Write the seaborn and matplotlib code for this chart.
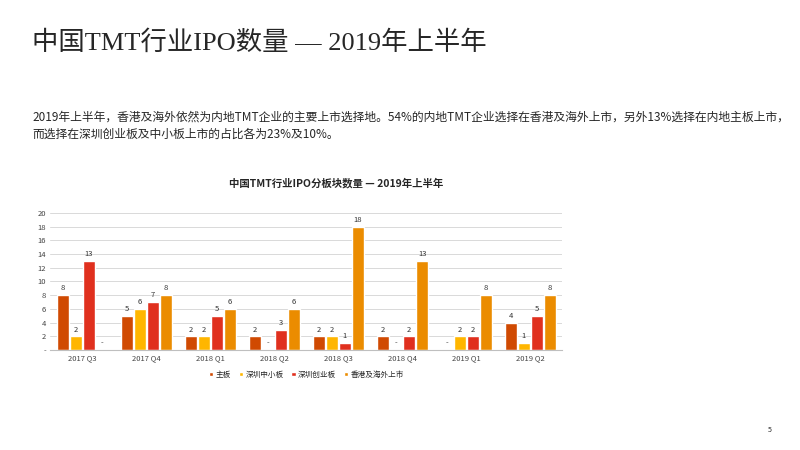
import pandas as pd
import matplotlib.pyplot as plt
import seaborn as sns

quarters = ['2017 Q3', '2017 Q4', '2018 Q1', '2018 Q2', '2018 Q3', '2018 Q4', '2019 Q1', '2019 Q2']
series = ['主板', '深圳中小板', '深圳创业板', '香港及海外上市']
main_board = [8, 5, 2, 2, 2, 2, 0, 4]
sme_board = [2, 6, 2, 0, 2, 0, 2, 1]
chinext = [13, 7, 5, 3, 1, 2, 2, 5]
hk_overseas = [0, 8, 6, 6, 18, 13, 8, 8]
colors = ['#d04a02', '#ffb600', '#e0301e', '#eb8c00']

rows = []
for name, vals in zip(series, [main_board, sme_board, chinext, hk_overseas]):
    for q, v in zip(quarters, vals):
        rows.append({'quarter': q, 'series': name, 'count': v})
df = pd.DataFrame(rows)

sns.set_style("white")
plt.rcParams['font.family'] = ['Noto Sans CJK SC', 'DejaVu Sans']

fig = plt.figure(figsize=(8, 4.5), dpi=100)
fig.text(0.04, 0.905, '中国TMT行业IPO数量 — 2019年上半年', fontsize=19, va='center',
         family=['Liberation Serif', 'Noto Sans CJK SC'])
fig.text(0.04, 0.72, '2019年上半年，香港及海外依然为内地TMT企业的主要上市选择地。54%的内地TMT企业选择在香港及海外上市，另外13%选择在内地主板上市，\n而选择在深圳创业板及中小板上市的占比各为23%及10%。',
         fontsize=8.5, va='center', linespacing=1.4)
fig.text(0.42, 0.585, '中国TMT行业IPO分板块数量 — 2019年上半年', fontsize=7.5, fontweight='bold', ha='center')
fig.text(0.96, 0.04, '5', fontsize=5)

ax = fig.add_axes([0.063, 0.222, 0.64, 0.305])
sns.barplot(data=df, x='quarter', y='count', hue='series', palette=colors, saturation=1,
            width=0.82, gap=0.1, ax=ax, legend=True)
for cont in ax.containers:
    labels = [('-' if b.get_height() == 0 else f'{int(b.get_height())}') for b in cont]
    ax.bar_label(cont, labels=labels, fontsize=5.5, padding=2, color='#333333')

ax.set_ylim(0, 20)
ax.set_yticks(range(0, 21, 2))
ax.set_yticklabels(['-'] + [str(v) for v in range(2, 21, 2)])
ax.yaxis.grid(True, color='#d9d9d9', lw=0.7)
ax.set_axisbelow(True)
ax.set_xlabel('')
ax.set_ylabel('')
ax.tick_params(labelsize=5.5, colors='#444444', length=0, pad=3)
for s in ['top', 'right', 'left']:
    ax.spines[s].set_visible(False)
ax.spines['bottom'].set_color('#bfbfbf')
ax.legend(loc='upper center', bbox_to_anchor=(0.5, -0.1), ncol=4, frameon=False,
          fontsize=5.5, handlelength=0.6, handleheight=0.6, columnspacing=1.0, handletextpad=0.3)

fig.savefig('out.png', dpi=100)
